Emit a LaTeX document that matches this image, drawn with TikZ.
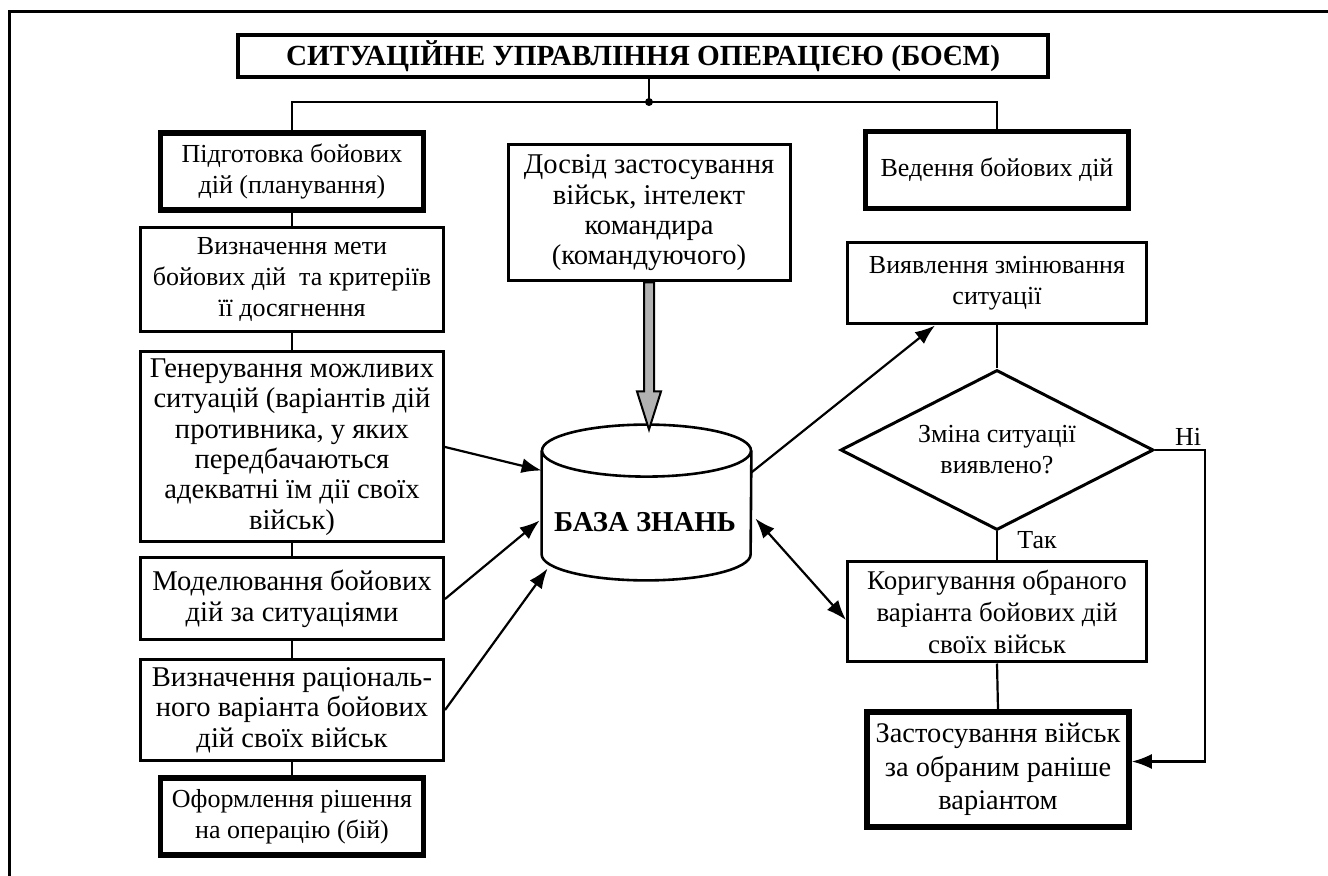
\documentclass[tikz,border=0pt]{standalone}
\usepackage{fontspec}
\setmainfont{Liberation Serif}
\usetikzlibrary{arrows.meta,shapes.geometric}
\tikzset{>={Latex[length=10pt,width=7.5pt]}}
\tikzset{
  box/.style={draw, line width=1.5pt, align=center, inner sep=0pt, font=\fontsize{13}{15.5}\selectfont},
  bigtext/.style={font=\fontsize{14.3}{15.2}\selectfont},
  mainbox/.style={box, line width=2.8pt},
  link/.style={line width=1.1pt},
}

\begin{document}
\begin{tikzpicture}[x=0.5pt,y=-0.5pt]
  \useasboundingbox (0,0) rectangle (1328,876);
  \draw[line width=1.5pt] (1328,12) -- (9,12) -- (9,876);
  % title
  \node[box, line width=2.2pt, minimum width=405pt, minimum height=21pt, font=\fontsize{14.6}{16}\selectfont\bfseries] (title) at (643,56) {СИТУАЦІЙНЕ УПРАВЛІННЯ ОПЕРАЦІЄЮ (БОЄМ)};
  \coordinate (split) at (649,102);
  % left column
  \node[mainbox, minimum width=131.5pt, minimum height=38.5pt] (prep) at (292,171.5) {Підготовка бойових\\дій (планування)};
  \node[box, minimum width=151.5pt, minimum height=52pt] (goal) at (292,280) {Визначення мети\\бойових дій~ та критеріїв\\її досягнення};
  \node[box, bigtext, minimum width=151.5pt, minimum height=95pt] (gen) at (292,447) {Генерування можливих\\ситуацій (варіантів дій\\противника, у яких\\передбачаються\\адекватні їм дії своїх\\військ)};
  \node[box, bigtext, minimum width=151.5pt, minimum height=41pt] (model) at (292,599) {Моделювання бойових\\дій за ситуаціями};
  \node[box, bigtext, minimum width=151.5pt, minimum height=50pt] (ratio) at (292,710) {Визначення раціональ-\\ного варіанта бойових\\дій своїх військ};
  \node[mainbox, minimum width=131.5pt, minimum height=38.5pt] (decis) at (292,816.5) {Оформлення рішення\\на операцію (бій)};
  % middle
  \node[box, bigtext, minimum width=141pt, minimum height=68pt] (exp) at (649,213) {Досвід застосування\\військ, інтелект\\командира\\(командуючого)};
  \node[inner sep=0pt, minimum width=104.5pt, minimum height=77.5pt] (kb) at (646.5,502.5) {};
  \node[font=\fontsize{14.4}{17}\selectfont\bfseries] (kbname) at (645,522) {БАЗА ЗНАНЬ};
  % right column
  \node[mainbox, minimum width=131.5pt, minimum height=38.5pt] (lead) at (997,170) {Ведення бойових дій};
  \node[box, minimum width=149.5pt, minimum height=40.5pt] (detect) at (997,283.5) {Виявлення змінювання\\ситуації};
  \node[box, diamond, aspect=2, minimum width=156.5pt, minimum height=80pt] (dec) at (997,450) {Зміна ситуації\\виявлено?};
  \node[box, font=\fontsize{13.5}{15.8}\selectfont, minimum width=149.5pt, minimum height=50pt] (corr) at (997,612) {Коригування обраного\\варіанта бойових дій\\своїх військ};
  \node[mainbox, font=\fontsize{14.2}{16.7}\selectfont, minimum width=131pt, minimum height=57.5pt] (apply) at (998,769.5) {Застосування військ\\за обраним раніше\\варіантом};
  \node[font=\fontsize{13}{15}\selectfont] (no) at (1188,437) {Ні};
  \node[font=\fontsize{13}{15}\selectfont] (yes) at (1037,540) {Так};
  \coordinate (noturn) at (1205,450);
  % knowledge base
  \draw[line width=1.3pt] ([yshift=-13pt]kb.north) ellipse [x radius=52.25pt, y radius=13pt];
  \draw[line width=1.3pt] ([yshift=-13pt]kb.north west) -- ([yshift=13pt]kb.south west)
    arc [start angle=180, end angle=360, x radius=52.25pt, y radius=13pt] -- ([yshift=-13pt]kb.north east);
  \draw[line width=1pt, fill=gray!60] ([xshift=-2.5pt]exp.south) -- ++(0,109) -- ++(-7,0) -- ++(12,38)
    -- ++(12,-38) -- ++(-7,0) -- ++(0,-109) -- cycle;
  % links
  \draw[link] (title.south -| split) -- (split);
  \fill (split) circle (2pt);
  \draw[link] (prep.north) |- (split) -| (lead.north);
  \foreach \a/\b in {prep/goal,goal/gen,gen/model,model/ratio,ratio/decis,detect/dec,dec/corr,corr/apply}
    \draw[link] (\a.south) -- (\b.north);
  \draw[link,->] (gen.east) -- ([yshift=16pt]kb.west);
  \draw[link,->] (model.east) -- ([xshift=-1pt,yshift=-9pt]kb.west);
  \draw[link,->] (ratio.east) -- ([xshift=3pt,yshift=-33pt]kb.west);
  \draw[link,->] ([yshift=15pt]kb.east) -- ([xshift=-31pt]detect.south);
  \draw[link,<->] ([xshift=2pt,yshift=-8pt]kb.east) -- ([yshift=-4pt]corr.west);
  \draw[link,->] (dec.east) -- (noturn) |- ([yshift=4pt]apply.east);
\end{tikzpicture}
\end{document}
